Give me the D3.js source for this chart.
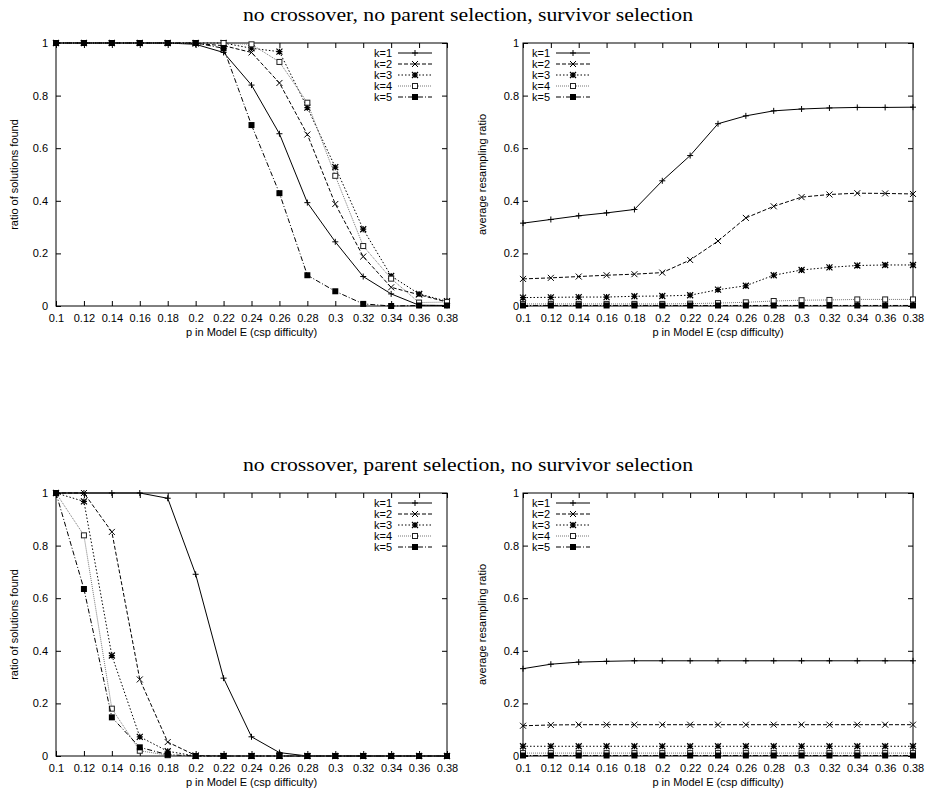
<!DOCTYPE html>
<html>
<head>
<meta charset="utf-8">
<script src="https://cdn.jsdelivr.net/npm/d3@7"></script>
<style>
  body { margin: 0; background: #fff; }
  svg { display: block; }
</style>
</head>
<body>
<svg id="chart" width="926" height="793"></svg>
<script>
// x values (p in Model E) and tick labels
const pValues = [0.1, 0.12, 0.14, 0.16, 0.18, 0.2, 0.22, 0.24, 0.26, 0.28, 0.3, 0.32, 0.34, 0.36, 0.38];
const xTickLabels = ["0.1", "0.12", "0.14", "0.16", "0.18", "0.2", "0.22", "0.24", "0.26", "0.28", "0.3", "0.32", "0.34", "0.36", "0.38"];
const yTickValues = [0, 0.2, 0.4, 0.6, 0.8, 1];
const yTickLabels = ["0", "0.2", "0.4", "0.6", "0.8", "1"];
const seriesNames = ["k=1", "k=2", "k=3", "k=4", "k=5"];
const sectionTitles = [
    "no crossover, no parent selection, survivor selection",
    "no crossover, parent selection, no survivor selection"
];

// top row: survivor selection
const solvedSurvivor = [
    [1, 1, 1, 1, 1, 0.995, 0.964, 0.84, 0.655, 0.393, 0.244, 0.112, 0.046, 0.003, 0.002],
    [1, 1, 1, 1, 1, 0.998, 0.99, 0.964, 0.848, 0.652, 0.388, 0.188, 0.071, 0.043, 0.015],
    [1, 1, 1, 1, 1, 1, 1, 0.98, 0.967, 0.754, 0.528, 0.292, 0.114, 0.046, 0.018],
    [1, 1, 1, 1, 1, 1, 1, 0.995, 0.928, 0.773, 0.495, 0.228, 0.104, 0.013, 0.015],
    [1, 1, 1, 1, 1, 1, 0.98, 0.688, 0.429, 0.117, 0.056, 0.008, 0, 0.002, 0.002]
];
const resampleSurvivor = [
    [0.315, 0.329, 0.343, 0.354, 0.367, 0.476, 0.572, 0.693, 0.723, 0.742, 0.749, 0.753, 0.755, 0.755, 0.756],
    [0.103, 0.107, 0.112, 0.117, 0.121, 0.127, 0.175, 0.247, 0.335, 0.379, 0.414, 0.424, 0.429, 0.428, 0.426],
    [0.032, 0.033, 0.034, 0.034, 0.037, 0.038, 0.041, 0.062, 0.077, 0.117, 0.137, 0.147, 0.154, 0.156, 0.156],
    [0.008, 0.008, 0.008, 0.008, 0.008, 0.008, 0.009, 0.011, 0.014, 0.019, 0.022, 0.023, 0.025, 0.025, 0.025],
    [0.002, 0.002, 0.002, 0.002, 0.002, 0.002, 0.002, 0.002, 0.002, 0.002, 0.002, 0.002, 0.002, 0.002, 0.002]
];

// bottom row: parent selection
const solvedParent = [
    [1, 1, 1, 1, 0.98, 0.691, 0.296, 0.073, 0.013, 0, 0, 0, 0, 0, 0],
    [1, 1, 0.852, 0.291, 0.053, 0.002, 0, 0, 0, 0, 0, 0, 0, 0, 0],
    [1, 0.968, 0.382, 0.073, 0.018, 0, 0, 0, 0, 0, 0, 0, 0, 0, 0],
    [1, 0.839, 0.18, 0.02, 0.003, 0, 0, 0, 0, 0, 0, 0, 0, 0, 0],
    [1, 0.635, 0.147, 0.033, 0.005, 0, 0, 0, 0, 0, 0, 0, 0, 0, 0]
];
const resampleParent = [
    [0.332, 0.349, 0.357, 0.36, 0.362, 0.362, 0.362, 0.362, 0.362, 0.362, 0.362, 0.362, 0.362, 0.362, 0.362],
    [0.115, 0.118, 0.119, 0.119, 0.119, 0.119, 0.119, 0.119, 0.119, 0.119, 0.119, 0.119, 0.119, 0.119, 0.119],
    [0.037, 0.037, 0.037, 0.037, 0.037, 0.037, 0.037, 0.037, 0.037, 0.037, 0.037, 0.037, 0.037, 0.037, 0.037],
    [0.011, 0.011, 0.011, 0.011, 0.011, 0.011, 0.011, 0.011, 0.011, 0.011, 0.011, 0.011, 0.011, 0.011, 0.011],
    [0.002, 0.002, 0.002, 0.002, 0.002, 0.002, 0.002, 0.002, 0.002, 0.002, 0.002, 0.002, 0.002, 0.002, 0.002]
];

// gnuplot-like line styles, one per k
const lineStyles = [
    {dash: null, color: "#000", marker: "plus"},
    {dash: "4,2", color: "#000", marker: "cross"},
    {dash: "1.5,2", color: "#000", marker: "star"},
    {dash: "1,1", color: "#777", marker: "box"},
    {dash: "5,2,1,2", color: "#000", marker: "filledBox"}
];

const svg = d3.select("#chart");
const sans = "'Liberation Sans', Arial, sans-serif";

function drawMarker(g, type, cx, cy) {
    let s = 3;
    if (type == "plus") {
        g.append("path").attr("d", `M${cx - s},${cy}h${2 * s}M${cx},${cy - s}v${2 * s}`)
            .attr("stroke", "#000").attr("stroke-width", 1);
    } else if (type == "cross") {
        g.append("path").attr("d", `M${cx - s},${cy - s}l${2 * s},${2 * s}M${cx - s},${cy + s}l${2 * s},${-2 * s}`)
            .attr("stroke", "#000").attr("stroke-width", 1);
    } else if (type == "star") {
        g.append("path").attr("d", `M${cx - s},${cy - s}l${2 * s},${2 * s}M${cx - s},${cy + s}l${2 * s},${-2 * s}` +
                `M${cx - s},${cy}h${2 * s}M${cx},${cy - s}v${2 * s}`)
            .attr("stroke", "#000").attr("stroke-width", 1.2);
    } else if (type == "box") {
        g.append("rect").attr("x", cx - 2.5).attr("y", cy - 2.5).attr("width", 5).attr("height", 5)
            .attr("fill", "#fff").attr("stroke", "#222").attr("stroke-width", 1);
    } else {
        g.append("rect").attr("x", cx - 3).attr("y", cy - 3).attr("width", 6).attr("height", 6)
            .attr("fill", "#000");
    }
}

function drawPanel(box, series, yLabel, legendSide) {
    let x = d3.scaleLinear().domain([0.1, 0.38]).range([box.left, box.right]);
    let y = d3.scaleLinear().domain([0, 1]).range([box.bottom, box.top]);
    let g = svg.append("g");

    // inward ticks on all four sides, gnuplot style
    let bottomAxis = g.append("g").attr("transform", `translate(0,${box.bottom})`)
        .call(d3.axisBottom(x).tickValues(pValues).tickSize(-5).tickPadding(8)
            .tickFormat((d, i) => xTickLabels[i]));
    g.append("g").attr("transform", `translate(0,${box.top})`)
        .call(d3.axisTop(x).tickValues(pValues).tickSize(-5).tickFormat(""));
    let leftAxis = g.append("g").attr("transform", `translate(${box.left},0)`)
        .call(d3.axisLeft(y).tickValues(yTickValues).tickSize(-5).tickPadding(box.labelPad)
            .tickFormat((d, i) => yTickLabels[i]));
    g.append("g").attr("transform", `translate(${box.right},0)`)
        .call(d3.axisRight(y).tickValues(yTickValues).tickSize(-5).tickFormat(""));
    g.selectAll(".domain").remove();
    g.selectAll(".tick line").attr("stroke", "#000");
    g.selectAll(".tick text").attr("fill", "#000");
    bottomAxis.attr("font-family", sans).attr("font-size", 11);
    leftAxis.attr("font-family", sans).attr("font-size", 11);

    g.append("rect")
        .attr("x", box.left).attr("y", box.top)
        .attr("width", box.right - box.left).attr("height", box.bottom - box.top)
        .attr("fill", "none").attr("stroke", "#000").attr("stroke-width", 1);

    // axis titles
    g.append("text")
        .attr("x", (box.left + box.right) / 2).attr("y", box.bottom + 30)
        .attr("text-anchor", "middle").attr("font-family", sans).attr("font-size", 11)
        .text("p in Model E (csp difficulty)");
    g.append("text")
        .attr("transform", `translate(${box.yTitleX},${(box.top + box.bottom) / 2}) rotate(-90)`)
        .attr("text-anchor", "middle").attr("font-family", sans).attr("font-size", 11)
        .text(yLabel);

    let line = d3.line().x((d, i) => x(pValues[i])).y(d => y(d));

    series.forEach((values, k) => {
        let style = lineStyles[k];
        g.append("path").datum(values)
            .attr("d", line)
            .attr("fill", "none")
            .attr("stroke", style.color)
            .attr("stroke-width", 1)
            .attr("stroke-dasharray", style.dash);
        let markers = g.append("g");
        values.forEach((v, i) => drawMarker(markers, style.marker, x(pValues[i]), y(v)));
    });

    // legend
    let legend = g.append("g");
    seriesNames.forEach((name, k) => {
        let style = lineStyles[k];
        let rowY = box.top + 10 + k * 11;
        let textRight = legendSide == "right" ? box.right - 55 : box.left + 27;
        let lineX0 = textRight + 6;
        let lineX1 = textRight + 40;
        legend.append("text")
            .attr("x", textRight).attr("y", rowY).attr("dy", "0.35em")
            .attr("text-anchor", "end").attr("font-family", sans).attr("font-size", 11)
            .text(name);
        legend.append("line")
            .attr("x1", lineX0).attr("x2", lineX1).attr("y1", rowY).attr("y2", rowY)
            .attr("stroke", style.color).attr("stroke-width", 1)
            .attr("stroke-dasharray", style.dash);
        drawMarker(legend, style.marker, (lineX0 + lineX1) / 2, rowY);
    });
}

// section titles (serif, stretched to the width of the original TeX title)
sectionTitles.forEach((t, i) => {
    svg.append("text")
        .attr("x", 468).attr("y", 21 + i * 450)
        .attr("text-anchor", "middle")
        .attr("font-family", "'Liberation Serif', 'Times New Roman', serif")
        .attr("font-size", 19)
        .attr("textLength", 450)
        .attr("lengthAdjust", "spacingAndGlyphs")
        .text(t);
});

let leftBox = {left: 56, right: 447, labelPad: 8, yTitleX: 18};
let rightBox = {left: 523, right: 913, labelPad: 4, yTitleX: 486};

drawPanel({...leftBox, top: 43, bottom: 306}, solvedSurvivor, "ratio of solutions found", "right");
drawPanel({...rightBox, top: 43, bottom: 306}, resampleSurvivor, "average resampling ratio", "left");
drawPanel({...leftBox, top: 493, bottom: 756}, solvedParent, "ratio of solutions found", "right");
drawPanel({...rightBox, top: 493, bottom: 756}, resampleParent, "average resampling ratio", "left");
</script>
</body>
</html>
